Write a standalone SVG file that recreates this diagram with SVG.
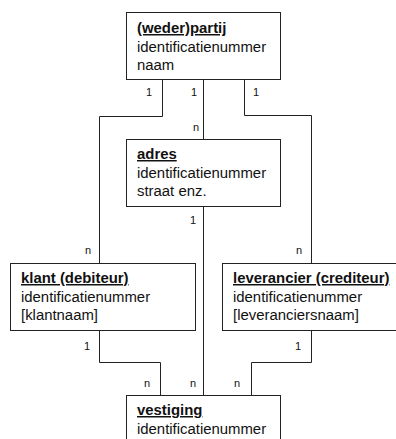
<svg xmlns="http://www.w3.org/2000/svg" width="396" height="439" viewBox="0 0 396 439">
<style>
.box{fill:#fff;stroke:#222;stroke-width:1}
.t{font-family:"Liberation Sans",Arial,sans-serif;font-size:14.9px;fill:#111}
.h{font-weight:bold;text-decoration:underline}
.c{fill:none;stroke:#222;stroke-width:1}
.l{font-family:"Liberation Sans",Arial,sans-serif;font-size:11px;fill:#111;text-anchor:middle}
</style>
<rect width="396" height="439" fill="#fff"/>
<g id="connectors">
<polyline class="c" points="162.5,79.5 162.5,116.5 99.5,116.5 99.5,263.5"/>
<line class="c" x1="203.5" y1="79.5" x2="203.5" y2="139.5"/>
<polyline class="c" points="244.5,79.5 244.5,115.5 311.5,115.5 311.5,263.5"/>
<line class="c" x1="203.5" y1="206.5" x2="203.5" y2="395.5"/>
<polyline class="c" points="99.5,330.5 99.5,362.5 160.5,362.5 160.5,395.5"/>
<polyline class="c" points="311.5,330.5 311.5,362.5 251.5,362.5 251.5,395.5"/>
<text class="l" x="149" y="96">1</text>
<text class="l" x="194" y="96">1</text>
<text class="l" x="256" y="96">1</text>
<text class="l" x="196" y="131">n</text>
<text class="l" x="193" y="224">1</text>
<text class="l" x="88" y="254">n</text>
<text class="l" x="299" y="254">n</text>
<text class="l" x="87" y="350">1</text>
<text class="l" x="298" y="350">1</text>
<text class="l" x="147" y="387">n</text>
<text class="l" x="193" y="387">n</text>
<text class="l" x="237" y="387">n</text>
</g>
<g id="partij">
<rect class="box" x="126.5" y="12.5" width="154" height="67"/>
<text class="t h" x="137" y="33">(weder)partij</text>
<text class="t" x="137" y="52">identificatienummer</text>
<text class="t" x="137" y="70">naam</text>
</g>
<g id="adres">
<rect class="box" x="126.5" y="139.5" width="154" height="67"/>
<text class="t h" x="137" y="159">adres</text>
<text class="t" x="137" y="178">identificatienummer</text>
<text class="t" x="137" y="196">straat enz.</text>
</g>
<g id="klant">
<rect class="box" x="10.5" y="263.5" width="185" height="67"/>
<text class="t h" x="21" y="283">klant (debiteur)</text>
<text class="t" x="21" y="302">identificatienummer</text>
<text class="t" x="21" y="320">[klantnaam]</text>
</g>
<g id="leverancier">
<rect class="box" x="222.5" y="263.5" width="180" height="67"/>
<text class="t h" x="233" y="283">leverancier (crediteur)</text>
<text class="t" x="233" y="302">identificatienummer</text>
<text class="t" x="233" y="320">[leveranciersnaam]</text>
</g>
<g id="vestiging">
<rect class="box" x="126.5" y="395.5" width="154" height="67"/>
<text class="t h" x="137" y="415">vestiging</text>
<text class="t" x="137" y="434">identificatienummer</text>
</g>
</svg>
